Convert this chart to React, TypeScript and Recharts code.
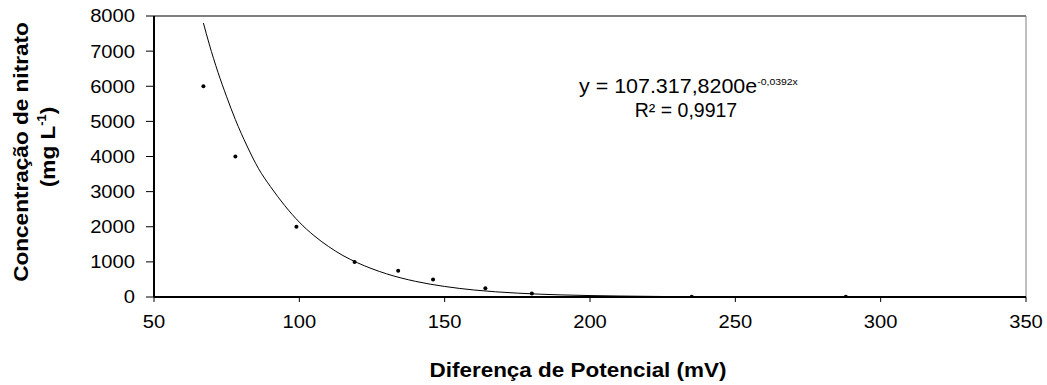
import { ComposedChart, XAxis, YAxis, Line, Scatter, ReferenceLine, Customized } from 'recharts';

document.body.style.margin = '0';

// measured points
const potencial = [67, 78, 99, 119, 134, 146, 164, 180, 235, 288];
const nitrato = [6000, 4000, 2000, 1000, 750, 500, 250, 100, 10, 5];

// trend line
const curvaX = [67, 69, 72, 75, 78, 82, 86, 90, 95, 100, 105, 110, 115, 120, 130, 140, 150, 160, 175, 190, 210, 240, 288];
const curvaY = [7800, 7200, 6400, 5700, 5050, 4300, 3650, 3150, 2600, 2130, 1750, 1440, 1180, 975, 660, 445, 300, 200, 110, 60, 28, 8, 1];

const xTicks = [50, 100, 150, 200, 250, 300, 350];
const yTicks = [0, 1000, 2000, 3000, 4000, 5000, 6000, 7000, 8000];

const pontos = potencial.map((x, i) => ({ x, y: nitrato[i] }));
const curva = curvaX.map((x, i) => ({ x, y: curvaY[i] }));

const FONT = 'Liberation Sans, Arial, sans-serif';

// the original text is a bit wider than plain Arial
const XTick = ({ x, y, payload }: any) => (
  <text
    transform={`translate(${x},${y}) scale(1.12,1)`}
    textAnchor="middle"
    dy="0.71em"
    fontSize={18}
    fontFamily={FONT}
    fill="#000"
  >
    {payload.value}
  </text>
);

const YTick = ({ x, y, payload }: any) => (
  <text
    transform={`translate(${x},${y}) scale(1.12,1)`}
    textAnchor="end"
    dy="0.36em"
    fontSize={18}
    fontFamily={FONT}
    fill="#000"
  >
    {payload.value}
  </text>
);

const Textos = () => (
  <g fontFamily={FONT} fill="#000">
    <text transform="translate(579,93) scale(1.1,1)" fontSize={19.5}>
      y = 107.317,8200e
      <tspan fontSize={9.5} dy={-8}>-0,0392x</tspan>
    </text>
    <text x={686} y={117} fontSize={19.5} textAnchor="middle">
      R² = 0,9917
    </text>
    <text
      transform="translate(578,377) scale(1.07,1)"
      fontSize={21}
      fontWeight="bold"
      textAnchor="middle"
    >
      Diferença de Potencial (mV)
    </text>
    <text
      fontSize={21}
      fontWeight="bold"
      textAnchor="middle"
      transform="translate(27.5,152) rotate(-90) scale(1.075,1)"
    >
      Concentração de nitrato
    </text>
    <text
      fontSize={21}
      fontWeight="bold"
      textAnchor="middle"
      transform="translate(55,147) rotate(-90) scale(1.075,1)"
    >
      (mg L<tspan fontSize={12} dy={-9}>-1</tspan>
      <tspan dy={9}>)</tspan>
    </text>
  </g>
);

const Ponto = (props: any) => <circle cx={props.cx} cy={props.cy} r={2} fill="#000" />;

export default function App() {
  return (
    <ComposedChart width={1047} height={385} margin={{ top: 16, right: 21, left: 0, bottom: 0 }}>
      <XAxis
        type="number"
        dataKey="x"
        domain={[50, 350]}
        ticks={xTicks}
        height={88}
        axisLine={{ stroke: '#000', strokeWidth: 2 }}
        tickLine={{ stroke: '#000', strokeWidth: 1 }}
        tickSize={5}
        tickMargin={13}
        tick={<XTick />}
        allowDataOverflow
      />
      <YAxis
        type="number"
        domain={[0, 8000]}
        ticks={yTicks}
        width={154}
        axisLine={{ stroke: '#000', strokeWidth: 2 }}
        tickLine={{ stroke: '#000', strokeWidth: 1 }}
        tickSize={8}
        tickMargin={11}
        tick={<YTick />}
        allowDataOverflow
      />
      <ReferenceLine y={8000} stroke="#808080" strokeWidth={2} />
      <ReferenceLine x={350} stroke="#808080" strokeWidth={1} />
      <Line
        data={curva}
        dataKey="y"
        type="monotone"
        stroke="#000"
        strokeWidth={1}
        dot={false}
        isAnimationActive={false}
      />
      <Scatter data={pontos} dataKey="y" shape={<Ponto />} isAnimationActive={false} />
      <Customized component={Textos} />
    </ComposedChart>
  );
}
